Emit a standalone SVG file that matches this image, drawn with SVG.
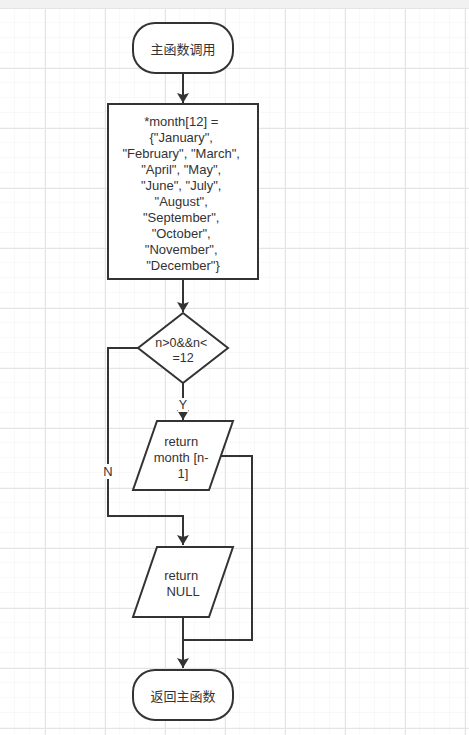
<svg xmlns="http://www.w3.org/2000/svg" width="469" height="735" viewBox="0 0 469 735">
<defs>
<pattern id="minor" x="0" y="8" width="15" height="15" patternUnits="userSpaceOnUse">
<path d="M15 0V15M0 15H15" fill="none" stroke="#f2f2f2" stroke-width="1"/>
</pattern>
<pattern id="major" x="45" y="8" width="60" height="60" patternUnits="userSpaceOnUse">
<path d="M0.5 0V60M0 0.5H60" fill="none" stroke="#e4e4e4" stroke-width="1"/>
</pattern>
<marker id="arr" viewBox="0 0 10 16" refX="10" refY="8" markerWidth="10" markerHeight="16" markerUnits="userSpaceOnUse" orient="auto">
<path d="M0 2 L10 8 L0 14 L2 8 Z" fill="#333"/>
</marker>
<style>
.shape{fill:#fff;stroke:#333;stroke-width:2}
.edge{fill:none;stroke:#333;stroke-width:2}
.t{font-family:"Liberation Sans","Noto Sans CJK SC",sans-serif;font-size:13px;fill:#333;text-anchor:middle;dominant-baseline:central}
.s{font-size:12.5px}
.cjk{font-family:"Noto Sans CJK SC",sans-serif;font-size:13px}
</style>
</defs>
<rect width="469" height="735" fill="#fff"/>
<rect y="8" width="469" height="727" fill="url(#minor)"/>
<rect y="8" width="469" height="727" fill="url(#major)"/>
<rect width="469" height="8" fill="#f1f1f1"/>

<g id="connectors">
<path class="edge" d="M183 74V103" marker-end="url(#arr)"/>
<path class="edge" d="M183 279V312" marker-end="url(#arr)"/>
<path class="edge" d="M183 383V420" marker-end="url(#arr)"/>
<path class="edge" d="M138 348H108V516H183V545" marker-end="url(#arr)"/>
<path class="edge" d="M221 456H252V640H183"/>
<path class="edge" d="M183 617V668" marker-end="url(#arr)"/>
<g id="label-y">
<rect x="178" y="398" width="10" height="14" fill="#fff"/>
<text class="t s" x="183" y="405">Y</text>
</g>
<g id="label-n">
<rect x="103" y="464" width="11" height="15" fill="#fff"/>
<text class="t" x="108" y="471">N</text>
</g>
</g>

<g id="start">
<rect class="shape" x="133" y="23" width="100" height="50" rx="22" ry="22"/>
<text class="t cjk" x="183" y="48">主函数调用</text>
</g>

<g id="init">
<rect class="shape" x="108" y="104" width="150" height="175"/>
<text class="t" x="183">
<tspan x="183" y="121">*month[12] =</tspan>
<tspan x="183" y="137">{"January",</tspan>
<tspan x="183" y="153">"February", "March",</tspan>
<tspan x="183" y="169">"April", "May",</tspan>
<tspan x="183" y="185">"June", "July",</tspan>
<tspan x="183" y="201">"August",</tspan>
<tspan x="183" y="217">"September",</tspan>
<tspan x="183" y="233">"October",</tspan>
<tspan x="183" y="249">"November",</tspan>
<tspan x="183" y="265">"December"}</tspan>
</text>
</g>

<g id="cond">
<polygon class="shape" points="183,313 228,348 183,383 138,348"/>
<text class="t s">
<tspan x="183" y="343">n&gt;0&amp;&amp;n&lt;</tspan>
<tspan x="183" y="358">=12</tspan>
</text>
</g>

<g id="ret-month">
<polygon class="shape" points="157,421 233,421 209,490 133,490"/>
<text class="t">
<tspan x="183" y="441">return</tspan>
<tspan x="183" y="457">month [n-</tspan>
<tspan x="183" y="473">1]</tspan>
</text>
</g>

<g id="ret-null">
<polygon class="shape" points="157,547 233,547 209,617 133,617"/>
<text class="t">
<tspan x="183" y="575">return</tspan>
<tspan x="183" y="591">NULL</tspan>
</text>
</g>

<g id="end">
<rect class="shape" x="133" y="670" width="100" height="50" rx="22" ry="22"/>
<text class="t cjk" x="183" y="695">返回主函数</text>
</g>
</svg>
